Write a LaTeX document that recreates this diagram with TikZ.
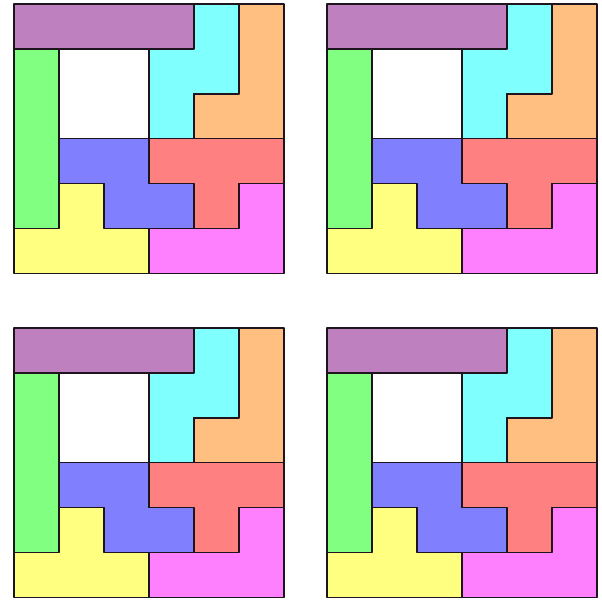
\documentclass[tikz,border=0pt]{standalone}
\usepackage{tikz}
\definecolor{cpurple}{RGB}{191,128,191}
\definecolor{cgreen}{RGB}{128,255,128}
\definecolor{ccyan}{RGB}{128,255,255}
\definecolor{corange}{RGB}{255,191,128}
\definecolor{cblue}{RGB}{128,128,255}
\definecolor{cred}{RGB}{255,128,128}
\definecolor{cyellow}{RGB}{255,255,128}
\definecolor{cmagenta}{RGB}{255,128,255}
\definecolor{cline}{RGB}{30,20,30}
\tikzset{piece/.style={draw=cline,line width=1.5pt,line join=round}}
\begin{document}
\begin{tikzpicture}[x=1pt,y=-1pt]
\useasboundingbox (0,0) rectangle (602,601);
\foreach \ox/\oy in {14/4,327/4,14/328,327/328}{
\begin{scope}[shift={(\ox,\oy)},x=45pt,y=-44.9pt]
\filldraw[piece,fill=white] (1,1) rectangle (3,3);
\filldraw[piece,fill=cpurple] (0,0) rectangle (4,1);
\filldraw[piece,fill=ccyan] (4,0) -- (5,0) -- (5,2) -- (4,2) -- (4,3) -- (3,3) -- (3,1) -- (4,1) -- cycle;
\filldraw[piece,fill=corange] (5,0) -- (6,0) -- (6,3) -- (4,3) -- (4,2) -- (5,2) -- cycle;
\filldraw[piece,fill=cgreen] (0,1) rectangle (1,5);
\filldraw[piece,fill=cblue] (1,3) -- (3,3) -- (3,4) -- (4,4) -- (4,5) -- (2,5) -- (2,4) -- (1,4) -- cycle;
\filldraw[piece,fill=cred] (3,3) -- (6,3) -- (6,4) -- (5,4) -- (5,5) -- (4,5) -- (4,4) -- (3,4) -- cycle;
\filldraw[piece,fill=cyellow] (1,4) -- (2,4) -- (2,5) -- (3,5) -- (3,6) -- (0,6) -- (0,5) -- (1,5) -- cycle;
\filldraw[piece,fill=cmagenta] (5,4) -- (6,4) -- (6,6) -- (3,6) -- (3,5) -- (5,5) -- cycle;
\end{scope}
}
\end{tikzpicture}
\end{document}
